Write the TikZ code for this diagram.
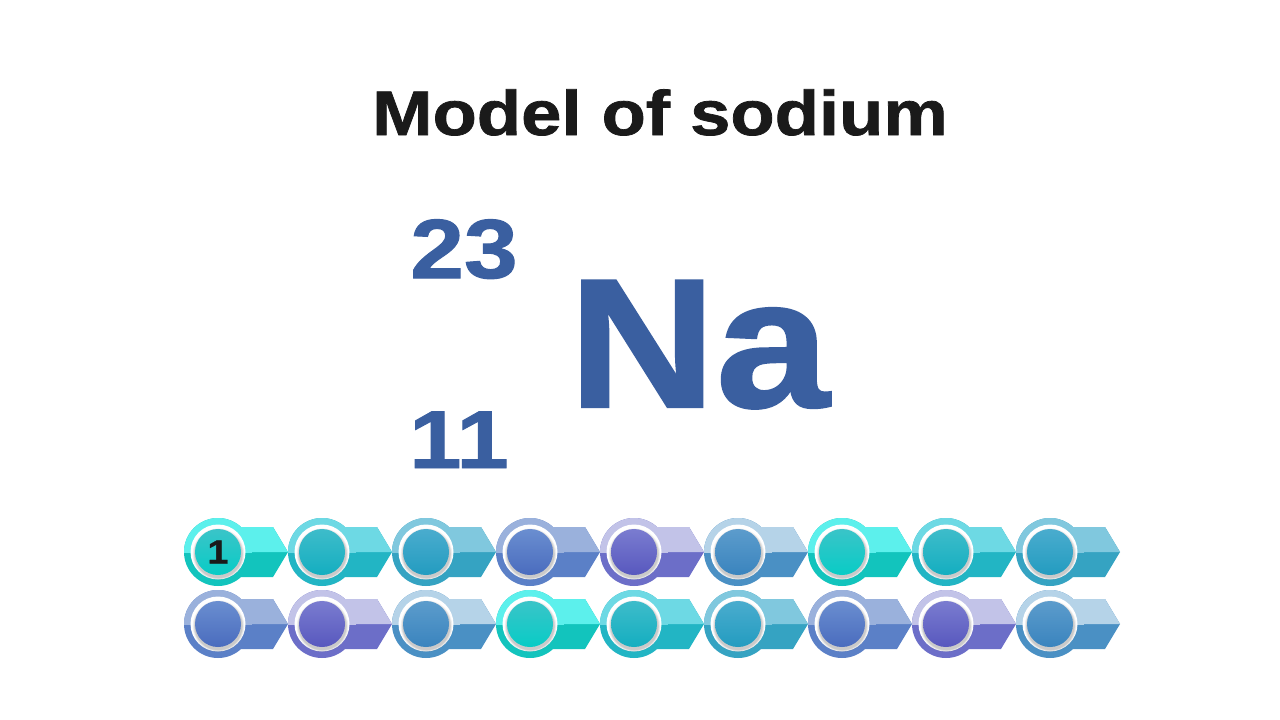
\documentclass[tikz,border=0pt]{standalone}
\usepackage{fontspec}
\setmainfont{Liberation Sans}
\newfontfamily\heavy[UprightFont=* Bold, FakeStretch=1.15, FakeBold=1.2]{Liberation Sans}
\newfontfamily\heavysym[UprightFont=* Bold, FakeStretch=1.11, FakeBold=1.2]{Liberation Sans}

\definecolor{naBlue}{HTML}{3A5FA0}
\definecolor{titleInk}{HTML}{1A1A1A}
% shell colours: upper half, lower half, disk top, disk bottom
\definecolor{up0}{HTML}{5CF0EC}\definecolor{dn0}{HTML}{12C4BD}\definecolor{inA0}{HTML}{3AC4C8}\definecolor{inB0}{HTML}{08CCC6}
\definecolor{up1}{HTML}{6DD9E4}\definecolor{dn1}{HTML}{22B5C4}\definecolor{inA1}{HTML}{3EBCCA}\definecolor{inB1}{HTML}{14AEC0}
\definecolor{up2}{HTML}{80C8DE}\definecolor{dn2}{HTML}{35A3C2}\definecolor{inA2}{HTML}{4AACCE}\definecolor{inB2}{HTML}{239CC0}
\definecolor{up3}{HTML}{9AB1DC}\definecolor{dn3}{HTML}{5B80C7}\definecolor{inA3}{HTML}{6A8ED0}\definecolor{inB3}{HTML}{4A6CBE}
\definecolor{up4}{HTML}{C2C3E8}\definecolor{dn4}{HTML}{6C6EC8}\definecolor{inA4}{HTML}{7A7CD0}\definecolor{inB4}{HTML}{5858BE}
\definecolor{up5}{HTML}{B5D3E8}\definecolor{dn5}{HTML}{4A90C4}\definecolor{inA5}{HTML}{5C9CCC}\definecolor{inB5}{HTML}{3A84BE}

\begin{document}
\begin{tikzpicture}[x=1pt, y=-1pt,
    bigtext/.style={inner sep=0pt, anchor=base, text=naBlue},
    shadowring/.style={fill=black, opacity=0.055}]
    \useasboundingbox (0,0) rectangle (1280,720);
    \fill[white] (0,0) rectangle (1280,720);

    % Heading
    \node[inner sep=0pt, anchor=base, text=titleInk, font=\heavy\fontsize{63}{63}\selectfont]
        (title) at (660,135) {Model of sodium};

    % Mass number, atomic number and symbol
    \node[bigtext, font=\heavy\fontsize{84}{84}\selectfont] (mass) at (464,278) {23};
    \node[bigtext, font=\heavy\fontsize{82}{82}\selectfont] (atomic) at (459,468) {11};
    \node[bigtext, font=\heavysym\fontsize{184}{184}\selectfont] (symbol) at (699,407) {Na};

    % Two rows of electron markers
    \foreach \i in {0,...,17} {
        \pgfmathtruncatemacro{\row}{\i/9}
        \pgfmathtruncatemacro{\col}{mod(\i,9)}
        \pgfmathtruncatemacro{\k}{mod(\i,6)}
        \coordinate (e\i) at (218+104*\col, 552+72*\row);
        \begin{scope}[shift={(e\i)}]
            \fill[dn\k] (0,0) circle (34);
            \fill[dn\k] (0,-25) -- (55,-25) -- (70,0) -- (55,25) -- (0,25) -- cycle;
            \begin{scope}
                \clip (-40,-40) rectangle (75,0);
                \fill[up\k] (0,0) circle (34);
                \fill[up\k] (0,-25) -- (55,-25) -- (70,0) -- (0,0) -- cycle;
            \end{scope}
            \fill[white] (0,0) circle (27.5);
            \foreach \r in {25.8,25,24.4,23.9} \fill[shadowring] (0.5,2.2) circle (\r);
            \shade[top color=inA\k, bottom color=inB\k] (0,0) circle (23);
        \end{scope}
    }

    % First marker carries its number
    \node[inner sep=0pt, text=titleInk, font=\heavy\fontsize{33}{33}\selectfont] (num1) at (e0) {1};
\end{tikzpicture}
\end{document}
